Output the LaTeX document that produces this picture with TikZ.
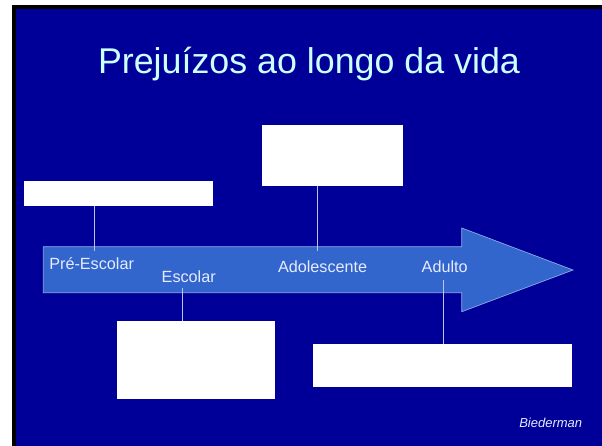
\documentclass[tikz,border=0pt]{standalone}
\usepackage{fontspec}
\setmainfont{Liberation Sans}
\begin{document}
\begin{tikzpicture}[x=1pt,y=-1pt,
  every node/.style={inner sep=0pt,outer sep=0pt},
  whitebox/.style={draw=none,fill=white,rectangle},
  lbl/.style={text=labelcol,font=\fontsize{16.2}{18}\selectfont,anchor=base west},
  conn/.style={draw=conncol,line width=0.9pt}]
\definecolor{bgblue}{RGB}{0,0,153}
\definecolor{arrowblue}{RGB}{51,102,204}
\definecolor{titlecol}{RGB}{204,255,255}
\definecolor{labelcol}{RGB}{230,235,255}
\definecolor{conncol}{RGB}{190,195,235}
\definecolor{edgecol}{RGB}{140,170,230}
\useasboundingbox (0,0) rectangle (602,445);
\begin{scope}
\clip (0,0) rectangle (602,445);
\fill[white] (-5,-5) rectangle (610,450);
\fill[black] (12,5) rectangle (610,450);
\fill[bgblue] (16,9) rectangle (610,450);
\end{scope}
% title
\node[text=titlecol,font=\fontsize{35.8}{40}\selectfont,anchor=base] (title) at (309,73.3) {Prejuízos ao longo da vida};
% arrow
\draw[fill=arrowblue,draw=edgecol,line width=0.7pt]
  (43.3,246.7) -- (461.7,246.7) -- (461.7,228) -- (573,270) -- (461.7,311.7) -- (461.7,292.7) -- (43.3,292.7) -- cycle;
% boxes
\node[whitebox,minimum width=188.4pt,minimum height=25pt,anchor=north west] (b1) at (24.3,181) {};
\node[whitebox,minimum width=141pt,minimum height=61pt,anchor=north west] (b2) at (262,125) {};
\node[whitebox,minimum width=157.7pt,minimum height=78pt,anchor=north west] (b3) at (117.3,321) {};
\node[whitebox,minimum width=259.3pt,minimum height=42.7pt,anchor=north west] (b4) at (312.7,344) {};
% connector end points
\coordinate (p1) at (94.3,251);
\coordinate (p2) at (317.3,251);
\coordinate (p3) at (182.7,288);
\coordinate (p4) at (443.3,280);
\draw[conn] (b1.south -| p1) -- (p1);
\draw[conn] (b2.south -| p2) -- (p2);
\draw[conn] (p3) -- (b3.north -| p3);
\draw[conn] (p4) -- (b4.north -| p4);
% labels
\node[lbl] (l1) at (49.3,269) {Pré-Escolar};
\node[lbl] (l2) at (161.7,282.7) {Escolar};
\node[lbl] (l3) at (278,272.7) {Adolescente};
\node[lbl] (l4) at (421.7,272.5) {Adulto};
\node[text=labelcol,font=\fontsize{13}{15}\selectfont\itshape,anchor=base west] (src) at (519.3,427.3) {Biederman};
\end{tikzpicture}
\end{document}
